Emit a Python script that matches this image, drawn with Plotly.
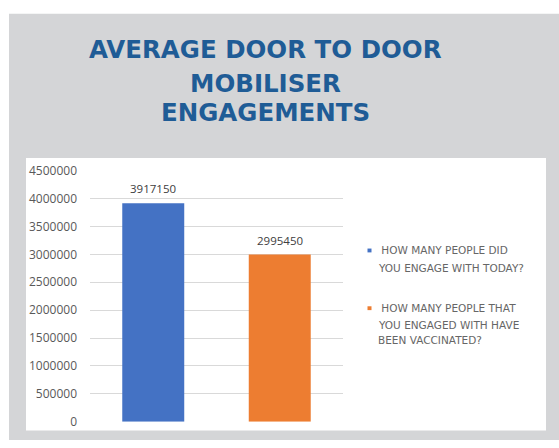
import plotly.graph_objects as go

# ---- data ----
series_names = [
    "HOW MANY PEOPLE DID YOU ENGAGE WITH TODAY?",
    "HOW MANY PEOPLE THAT YOU ENGAGED WITH HAVE BEEN VACCINATED?",
]
series_values = [3917150, 2995450]
series_colors = ["#4472C4", "#ED7D31"]
legend_lines = [
    ["HOW MANY PEOPLE DID", "YOU ENGAGE WITH TODAY?"],
    ["HOW MANY PEOPLE THAT", "YOU ENGAGED WITH HAVE", "BEEN VACCINATED?"],
]
y_tick_values = list(range(0, 4500001, 500000))
title_lines = ["AVERAGE DOOR TO DOOR", "MOBILISER", "ENGAGEMENTS"]

# ---- page geometry (pixels) ----
W, H = 559, 448


def px(x):
    return x / W


def py(y):
    return 1 - y / H


PLOT_L, PLOT_R = 90, 343
PLOT_T, PLOT_B = 168, 429

fig = go.Figure()

fig.add_trace(
    go.Bar(
        x=series_names,
        y=series_values,
        marker=dict(color=series_colors, line=dict(width=0)),
        width=0.49,
        showlegend=False,
        hoverinfo="x+y",
    )
)

shapes = [
    # grey card
    dict(type="rect", xref="paper", yref="paper",
         x0=px(9), x1=px(W), y0=py(H), y1=py(5),
         fillcolor="#D4D5D7", line=dict(width=0), layer="below"),
    # white chart panel
    dict(type="rect", xref="paper", yref="paper",
         x0=px(26), x1=px(546), y0=py(438), y1=py(155),
         fillcolor="#FFFFFF", line=dict(width=0), layer="below"),
]

annotations = []

# title lines
title_y = [42, 77, 108]
for text, yy in zip(title_lines, title_y):
    annotations.append(dict(
        text=f"<b>{text}</b>", xref="paper", yref="paper",
        x=px(265), y=py(yy), xanchor="center", yanchor="middle",
        showarrow=False,
        font=dict(family="DejaVu Sans", size=24.5, color="#1F5C96"),
    ))

# value labels above the bars
for name, val in zip(series_names, series_values):
    annotations.append(dict(
        text=str(val), x=name, y=val, xref="x", yref="y",
        xanchor="center", yanchor="bottom", yshift=5,
        showarrow=False,
        font=dict(family="Open Sans", size=11.5, color="#404040"),
    ))

# legend
legend_line_y = [[251, 269.5], [311, 328, 344.5]]
for lines, ys, color in zip(legend_lines, legend_line_y, series_colors):
    shapes.append(dict(
        type="rect", xref="paper", yref="paper",
        x0=px(367.5), x1=px(371.5), y0=py(ys[0] + 2), y1=py(ys[0] - 2),
        fillcolor=color, line=dict(width=0),
    ))
    for i, (line, yy) in enumerate(zip(lines, ys)):
        annotations.append(dict(
            text=(" " if i == 0 else "") + line,
            xref="paper", yref="paper",
            x=px(376), y=py(yy), xanchor="left", yanchor="middle",
            showarrow=False,
            font=dict(family="DejaVu Sans", size=10.5, color="#666666"),
        ))

fig.update_layout(
    width=W, height=H,
    margin=dict(l=0, r=0, t=0, b=0, pad=0),
    paper_bgcolor="#FFFFFF",
    plot_bgcolor="rgba(0,0,0,0)",
    shapes=shapes,
    annotations=annotations,
    bargap=0.51,
    xaxis=dict(
        domain=[px(PLOT_L), px(PLOT_R)],
        type="category",
        showticklabels=False,
        showgrid=False,
        zeroline=False,
        showline=False,
        ticks="",
        fixedrange=True,
    ),
    yaxis=dict(
        domain=[py(PLOT_B), py(PLOT_T)],
        range=[0, 4500000],
        tickmode="array",
        tickvals=y_tick_values,
        ticktext=[str(v) for v in y_tick_values],
        showgrid=True,
        gridcolor="#D9D9D9",
        gridwidth=1,
        zeroline=False,
        showline=False,
        ticks="",
        ticklabelstandoff=12,
        tickfont=dict(family="Open Sans", size=12, color="#595959"),
        fixedrange=True,
    ),
    showlegend=False,
)

fig.write_html("out.html")
